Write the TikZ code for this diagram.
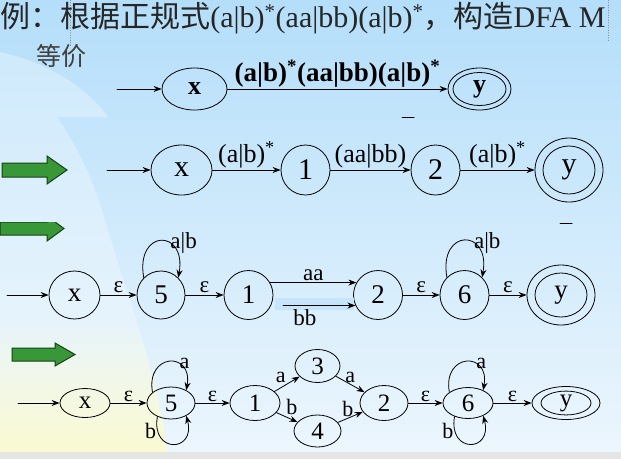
\documentclass[tikz,border=0pt]{standalone}
\usepackage{fontspec}
\setmainfont{Liberation Serif}
\newfontfamily\cjk{Noto Sans CJK SC}
\usetikzlibrary{arrows.meta,shapes.geometric,fadings}
\definecolor{bgtop}{RGB}{180,222,250}
\definecolor{bgbot}{RGB}{236,246,253}
\definecolor{cream}{RGB}{250,250,210}
\definecolor{arrowgreen}{RGB}{56,152,56}
\definecolor{arrowrim}{RGB}{22,64,22}
\definecolor{hilite}{RGB}{198,228,250}
\begin{document}
\begin{tikzpicture}[line cap=round, line join=round, >={Stealth[length=8pt,width=6pt]}, x=1pt, y=1pt, line width=.8pt]
	\tikzset{state/.style={draw, ellipse, inner sep=0pt},
		big arrow/.style={fill=arrowgreen, draw=arrowrim, line width=1pt, line join=miter},
		row1 node/.style={state, font=\bfseries\fontsize{26}{30}\selectfont},
		row1 label/.style={font=\bfseries\fontsize{27}{32}\selectfont, inner sep=1pt},
		row2 node/.style={state, font=\fontsize{30}{36}\selectfont},
		row2 label/.style={font=\fontsize{26}{31}\selectfont, inner sep=1.5pt},
		row3 node/.style={state, font=\fontsize{27}{32}\selectfont},
		row3 label/.style={font=\fontsize{23}{28}\selectfont, inner sep=1.5pt},
		row4 node/.style={state, font=\fontsize{25}{30}\selectfont},
		row4 label/.style={font=\fontsize{22}{26}\selectfont, inner sep=1pt},
		self up/.style={out=100, in=80, distance=#1},
		self down/.style={out=260, in=285, distance=#1}}
	\useasboundingbox (0,0) rectangle (621,-459);
	% background
	\fill[top color=bgtop, bottom color=bgbot] (0,0) rectangle (621,-452);
	\begin{scope}
		\clip (0,-52) .. controls (45,-62) and (85,-85) .. (108,-117) -- (57,-117) .. controls (80,-150) and (95,-185) .. (105,-220) .. controls (125,-290) and (160,-380) .. (167,-452) -- (0,-452) -- cycle;
		\fill[white, opacity=.3] (0,0) rectangle (200,-452);
		\fill[cream, path fading=north] (0,-320) rectangle (200,-452);
	\end{scope}
	\fill[gray!20] (0,-452) rectangle (621,-459);
	\draw[gray, dotted, line width=.5pt] (70,0) -- (70,-47);
	\draw[gray, dotted, line width=.5pt] (608,0) -- (608,-42);
	\draw[line width=1pt] (402,-117) -- (414,-117);
	\draw[line width=1pt] (560,-223) -- (572,-223);
	
	% heading
	\node[anchor=west, inner sep=0pt, text=black!85, font=\fontsize{30}{36}\selectfont] (title) at (0,-18) {{\cjk 例：根据正规式}(a|b)\textsuperscript{*}(aa|bb)(a|b)\textsuperscript{*}{\cjk ，构造}DFA M};
	\node[text=black!75, font=\cjk\fontsize{25}{30}\selectfont] (equiv) at (61,-56) {等价};
	
	% green arrows
	\draw[big arrow] (2,-163) -- (47,-163) -- (47,-156) -- (67,-170) -- (47,-184) -- (47,-177) -- (2,-177) -- cycle;
	\begin{scope}
		\clip (0,-222) rectangle (80,-260);
		\draw[big arrow] (0,-222) -- (47,-222) -- (47,-216) -- (64,-228.5) -- (47,-241) -- (47,-235) -- (0,-235) -- cycle;
	\end{scope}
	\draw[big arrow] (12,-348) -- (55,-348) -- (55,-343) -- (75,-354.5) -- (55,-366) -- (55,-361) -- (12,-361) -- cycle;
	
	% row 1
	\coordinate (s1) at (117,-89);
	\node[row1 node, minimum width=65pt, minimum height=42pt] (x1) at (194.5,-89) {x};
	\node[state, minimum width=63pt, minimum height=42pt] (y1) at (479.5,-89) {};
	\node[row1 node, minimum width=53pt, minimum height=33pt] (y1i) at (y1) {y};
	\draw[->] (s1) -- (x1);
	\draw[->] (x1) -- node[above, row1 label]{(a|b)\textsuperscript{*}(aa|bb)(a|b)\textsuperscript{*}} (y1);
	
	% row 2
	\coordinate (s2) at (107,-170);
	\node[row2 node, minimum width=61pt, minimum height=50pt] (x2) at (181.5,-170) {x};
	\node[row2 node, minimum width=49pt, minimum height=50pt] (n21) at (305.5,-170) {1};
	\node[row2 node, minimum width=49pt, minimum height=50pt] (n22) at (435.5,-170) {2};
	\node[state, minimum width=68pt, minimum height=64pt] (y2) at (569,-170) {};
	\node[row2 node, minimum width=52pt, minimum height=48pt] (y2i) at (y2) {y};
	\draw[->] (s2) -- (x2);
	\draw[->] (x2) -- node[above, row2 label]{(a|b)\textsuperscript{*}} (n21);
	\draw[->] (n21) -- node[above, row2 label]{(aa|bb)} (n22);
	\draw[->] (n22) -- node[above, row2 label]{(a|b)\textsuperscript{*}} (y2);
	
	% row 3
	\coordinate (s3) at (7,-295);
	\node[row3 node, minimum width=51pt, minimum height=48pt] (x3) at (74.5,-295) {x};
	\node[row3 node, minimum size=48pt] (n35) at (161,-295) {5};
	\node[row3 node, minimum size=49pt] (n31) at (248.5,-295) {1};
	\node[row3 node, minimum size=49pt] (n32) at (378,-295) {2};
	\node[row3 node, minimum size=49pt] (n36) at (464.5,-295) {6};
	\node[state, minimum width=68pt, minimum height=60pt] (y3) at (561,-295) {};
	\node[row3 node, minimum width=52pt, minimum height=44pt] (y3i) at (y3) {y};
	\fill[hilite] (275,-298) rectangle (354,-310);
	\draw[->] (s3) -- (x3);
	\draw[->] (x3) -- node[above, row3 label]{ε} (n35);
	\draw[->] (n35) -- node[above, row3 label]{ε} (n31);
	\draw[->] (n31.30) -- node[above, row3 label]{aa} (n32.150);
	\draw[->, shorten <=12pt] (n31.-25) -- node[pos=.4, below, row3 label, inner sep=4pt]{bb} (n32.205);
	\draw[->] (n32) -- node[above, row3 label]{ε} (n36);
	\draw[->] (n36) -- node[above, row3 label]{ε} (y3);
	\draw[->] (n35.135) to[self up=50pt] node[pos=.62, right, row3 label]{a|b} (n35.45);
	\draw[->] (n36.135) to[self up=50pt] node[pos=.62, right, row3 label]{a|b} (n36.45);
	
	% row 4
	\coordinate (s4) at (18,-403);
	\node[row4 node, minimum width=50pt, minimum height=29pt] (x4) at (85,-403) {x};
	\node[row4 node, minimum width=48pt, minimum height=32pt] (n45) at (171,-403) {5};
	\node[row4 node, minimum width=50pt, minimum height=35pt] (n41) at (255,-403) {1};
	\node[row4 node, minimum width=45pt, minimum height=33pt] (n43) at (317.5,-366) {3};
	\node[row4 node, minimum width=47pt, minimum height=32pt] (n44) at (317.5,-431) {4};
	\node[row4 node, minimum width=48pt, minimum height=35pt] (n42) at (384,-403) {2};
	\node[row4 node, minimum width=50pt, minimum height=31pt] (n46) at (468,-403) {6};
	\node[state, minimum width=68pt, minimum height=33pt] (y4) at (566,-403) {};
	\node[row4 node, minimum width=50pt, minimum height=23pt] (y4i) at (y4) {y};
	\draw[->] (s4) -- (x4);
	\draw[->] (x4) -- node[above, row4 label]{ε} (n45);
	\draw[->] (n45) -- node[above, row4 label]{ε} (n41);
	\draw[->] (n41) -- node[above left, row4 label]{a} (n43);
	\draw[->] (n43) -- node[above, row4 label]{a} (n42);
	\draw[->] (n41) -- node[pos=.4, above right, row4 label]{b} (n44);
	\draw[->] (n44) -- node[pos=.4, above, row4 label]{b} (n42);
	\draw[->] (n42) -- node[above, row4 label]{ε} (n46);
	\draw[->] (n46) -- node[above, row4 label]{ε} (y4);
	\draw[->] (n45.150) to[self up=40pt] node[pos=.65, right, row4 label]{a} (n45.40);
	\draw[->] (n45.225) to[self down=38pt] node[pos=.15, left, row4 label]{b} (n45.320);
	\draw[->] (n46.150) to[self up=40pt] node[pos=.65, right, row4 label]{a} (n46.40);
	\draw[->] (n46.225) to[self down=38pt] node[pos=.15, left, row4 label]{b} (n46.320);
\end{tikzpicture}
\end{document}
